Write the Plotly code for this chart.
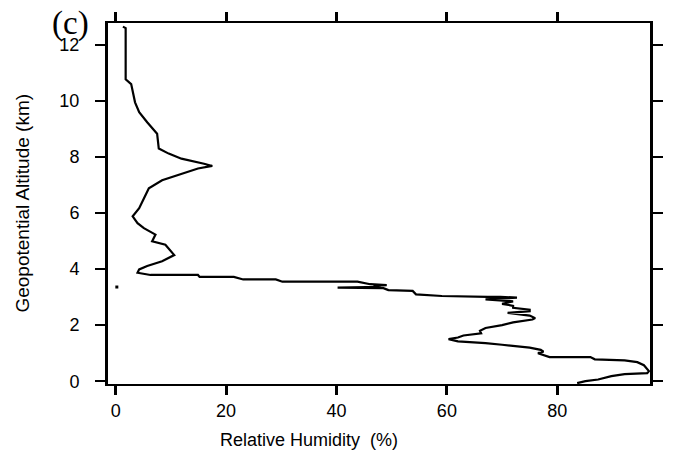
import plotly.graph_objects as go

# Relative humidity profile (%), ordered from ground upward
altitude_km = [
    -0.07, 0.00, 0.06, 0.18, 0.25, 0.29, 0.36, 0.42, 0.57, 0.68, 0.74, 0.78, 0.86, 0.86,
    0.95, 1.00, 1.05, 1.12, 1.20, 1.25, 1.30, 1.36, 1.39, 1.42, 1.50, 1.56, 1.63, 1.71,
    1.80, 1.90, 2.00, 2.10, 2.20, 2.25, 2.34, 2.44, 2.50, 2.55, 2.62, 2.69, 2.76, 2.85,
    2.92, 2.98, 3.01, 3.01, 3.04, 3.10, 3.22, 3.25, 3.32, 3.34, 3.37, 3.40, 3.43, 3.46,
    3.55, 3.55, 3.63, 3.63, 3.72, 3.72, 3.79, 3.79, 3.87, 3.99, 4.11, 4.28, 4.50, 4.87,
    4.99, 5.23, 5.46, 5.64, 5.88, 6.17, 6.52, 6.88, 7.17, 7.41, 7.59, 7.68, 7.76, 7.94,
    8.12, 8.30, 8.83, 9.24, 9.60, 9.95, 10.30, 10.60, 10.77, 12.60, 12.65,
]
rel_humidity = [
    83.6, 85.1, 87.4, 89.8, 92.2, 96.3, 96.6, 96.3, 95.7, 94.5, 92.2, 86.8, 86.0, 78.6,
    77.0, 76.5, 77.5, 77.0, 75.0, 73.0, 70.0, 67.0, 64.0, 62.0, 60.3, 62.0, 63.0, 66.2,
    66.0, 67.0, 70.0, 72.0, 75.5, 76.0, 75.0, 71.0, 75.0, 75.0, 72.0, 72.0, 70.0, 72.0,
    67.0, 72.7, 69.7, 67.4, 59.1, 54.4, 53.8, 49.4, 48.5, 40.2, 48.0, 46.7, 49.1, 46.1,
    43.8, 30.2, 29.0, 23.1, 21.4, 15.2, 14.9, 6.3, 3.95, 4.25, 5.7, 8.4, 10.6, 9.0,
    6.6, 7.2, 5.1, 3.95, 3.07, 4.25, 5.1, 6.0, 8.4, 11.9, 14.9, 17.5, 16.0, 11.9,
    9.6, 7.8, 7.5, 5.7, 4.25, 3.5, 3.07, 2.8, 1.8, 1.8, 1.3,
]

# isolated stray sample next to the left axis
stray_rh = [0.2]
stray_alt = [3.36]

x_ticks = [0, 20, 40, 60, 80]
y_ticks = [0, 2, 4, 6, 8, 10, 12]

W, H = 675, 457
L, R, T, B = 108, 12, 20, 73
PW, PH = W - L - R, H - T - B

fig = go.Figure()
fig.add_trace(go.Scatter(
    x=rel_humidity, y=altitude_km, mode="lines",
    line=dict(color="black", width=2.2, shape="linear"),
    showlegend=False, hoverinfo="skip",
))
fig.add_trace(go.Scatter(
    x=stray_rh, y=stray_alt, mode="markers",
    marker=dict(color="black", size=3, symbol="square"),
    showlegend=False, hoverinfo="skip",
))

sans = "Liberation Sans, Arial, sans-serif"
tick_font = dict(family=sans, size=18, color="black")

fig.update_layout(
    width=W, height=H,
    margin=dict(l=L, r=R, t=T, b=B, pad=0),
    paper_bgcolor="white", plot_bgcolor="white",
    xaxis=dict(
        range=[-1.4, 96.8], tickvals=x_ticks, ticktext=[str(v) for v in x_ticks],
        ticks="outside", ticklen=9, tickwidth=3, tickcolor="black",
        showline=True, linecolor="black", linewidth=1.5, mirror="ticks",
        showgrid=False, zeroline=False, tickfont=tick_font, ticklabelstandoff=1,
    ),
    yaxis=dict(
        range=[-0.1, 12.78], tickvals=y_ticks, ticktext=[str(v) for v in y_ticks],
        ticks="outside", ticklen=10, tickwidth=1.5, tickcolor="black",
        showline=True, linecolor="black", linewidth=3, mirror="ticks",
        showgrid=False, zeroline=False, tickfont=tick_font, ticklabelstandoff=12,
    ),
    annotations=[
        dict(text="Relative Humidity  (%)", xref="paper", yref="paper",
             x=(314 - L) / PW, y=-(440 - (H - B)) / PH,
             xanchor="center", yanchor="middle", showarrow=False,
             font=dict(family=sans, size=18, color="black")),
        dict(text="Geopotential Altitude (km)", xref="paper", yref="paper",
             x=-(L - 20) / PW, y=0.5, textangle=-90,
             xanchor="center", yanchor="middle", showarrow=False,
             font=dict(family=sans, size=19, color="black")),
        dict(text="(c)", xref="paper", yref="paper",
             x=-(L - 49) / PW, y=((H - B) - 21) / PH,
             xanchor="left", yanchor="middle", showarrow=False,
             font=dict(family="Liberation Serif, Times New Roman, serif", size=33, color="black")),
    ],
)

fig.write_html("out.html")
